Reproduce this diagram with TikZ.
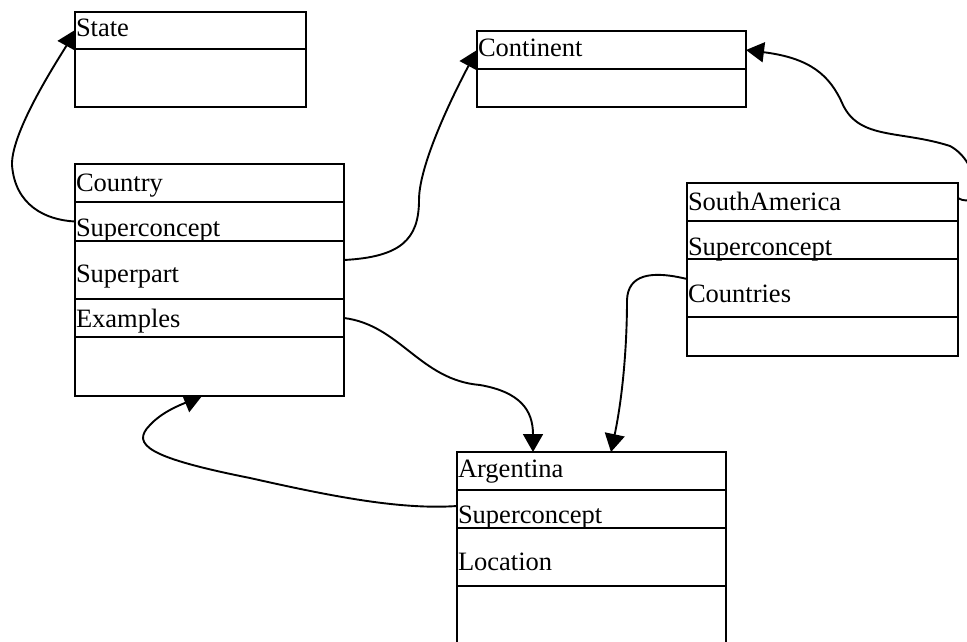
\documentclass[tikz,border=0pt]{standalone}
\usepackage{fontspec}
\setmainfont{Liberation Serif}
\usetikzlibrary{arrows.meta,calc}
\pgfdeclarelayer{bg}
\pgfsetlayers{bg,main}
\tikzset{
  row/.style={draw, fill=white, line width=2.2pt, inner sep=0pt, outer sep=0pt,
    anchor=north west, minimum height=#1},
  lbl/.style={anchor=base west, inner sep=0pt, outer sep=0pt,
    font=\fontsize{26.5}{30}\selectfont},
  conn/.style={line width=1.9pt, -{Triangle[length=18pt,width=20pt]}},
}
\begin{document}
\begin{tikzpicture}[x=1pt,y=-1pt]
\useasboundingbox (0,0) rectangle (967,641);
\clip (0,0) rectangle (967,641);
% State
\begin{scope}[every node/.append style={minimum width=231pt}]
\node[row=37pt] (st1) at (75,12) {};
\node[row=58pt] (st2) at (75,49) {};
\end{scope}
\node[lbl] (stT) at (76,36) {State};
% Continent
\begin{scope}[every node/.append style={minimum width=269pt}]
\node[row=38pt] (ct1) at (477,31) {};
\node[row=38pt] (ct2) at (477,69) {};
\end{scope}
\node[lbl] (ctT) at (478,56) {Continent};
% Country
\begin{scope}[every node/.append style={minimum width=269pt}]
\node[row=38pt] (cy1) at (75,164) {};
\node[row=39pt] (cy2) at (75,202) {};
\node[row=58pt] (cy3) at (75,241) {};
\node[row=38pt] (cy4) at (75,299) {};
\node[row=59pt] (cy5) at (75,337) {};
\end{scope}
\node[lbl] (cyT1) at (76,191) {Country};
\node[lbl] (cyT2) at (76,236) {Superconcept};
\node[lbl] (cyT3) at (76,282) {Superpart};
\node[lbl] (cyT4) at (76,327) {Examples};
% SouthAmerica
\begin{scope}[every node/.append style={minimum width=271pt}]
\node[row=38pt] (sa1) at (687,183) {};
\node[row=38pt] (sa2) at (687,221) {};
\node[row=58pt] (sa3) at (687,259) {};
\node[row=39pt] (sa4) at (687,317) {};
\end{scope}
\node[lbl] (saT1) at (688,210) {SouthAmerica};
\node[lbl] (saT2) at (688,255) {Superconcept};
\node[lbl] (saT3) at (688,302) {Countries};
% Argentina
\begin{scope}[every node/.append style={minimum width=269pt}]
\node[row=38pt] (ar1) at (457,452) {};
\node[row=38pt] (ar2) at (457,490) {};
\node[row=58pt] (ar3) at (457,528) {};
\node[row=100pt] (ar4) at (457,586) {};
\end{scope}
\node[lbl] (arT1) at (458,477) {Argentina};
\node[lbl] (arT2) at (458,523) {Superconcept};
\node[lbl] (arT3) at (458,570) {Location};
% connectors
\begin{pgfonlayer}{bg}
\draw[conn] (cy2.west) .. controls (45,220) and (15,205) .. (12,165)
  .. controls (11,130) and (63,52) .. ($(st1.west)+(0,-0.5)$);
\draw[conn] ($(cy3.east)+(0,-10)$) .. controls (400,257) and (419,240) .. (419,200)
  .. controls (419,160) and (462,78) .. (ct1.west);
\draw[conn] ($(sa1.east)+(0,-4)$) .. controls (983,212) and (980,162) .. (950,146)
  .. controls (900,130) and (860,140) .. (843,105)
  .. controls (830,75) and (810,58) .. (ct1.east);
\draw[conn] (cy4.east) .. controls (400,325) and (420,380) .. (480,385)
  .. controls (520,392) and (533,410) .. ($(ar1.north west)+(76,0)$);
\draw[conn] ($(sa3.west)+(0,-9)$) .. controls (650,270) and (628,275) .. (627,300)
  .. controls (627,350) and (622,400) .. ($(ar1.north west)+(154,0)$);
\draw[conn] ($(ar2.west)+(0,-3)$) .. controls (400,510) and (330,496) .. (250,478)
  .. controls (150,458) and (130,445) .. (150,425)
  .. controls (162,412) and (180,405) .. ($(cy5.south west)+(127,0)$);
\end{pgfonlayer}
\end{tikzpicture}
\end{document}
